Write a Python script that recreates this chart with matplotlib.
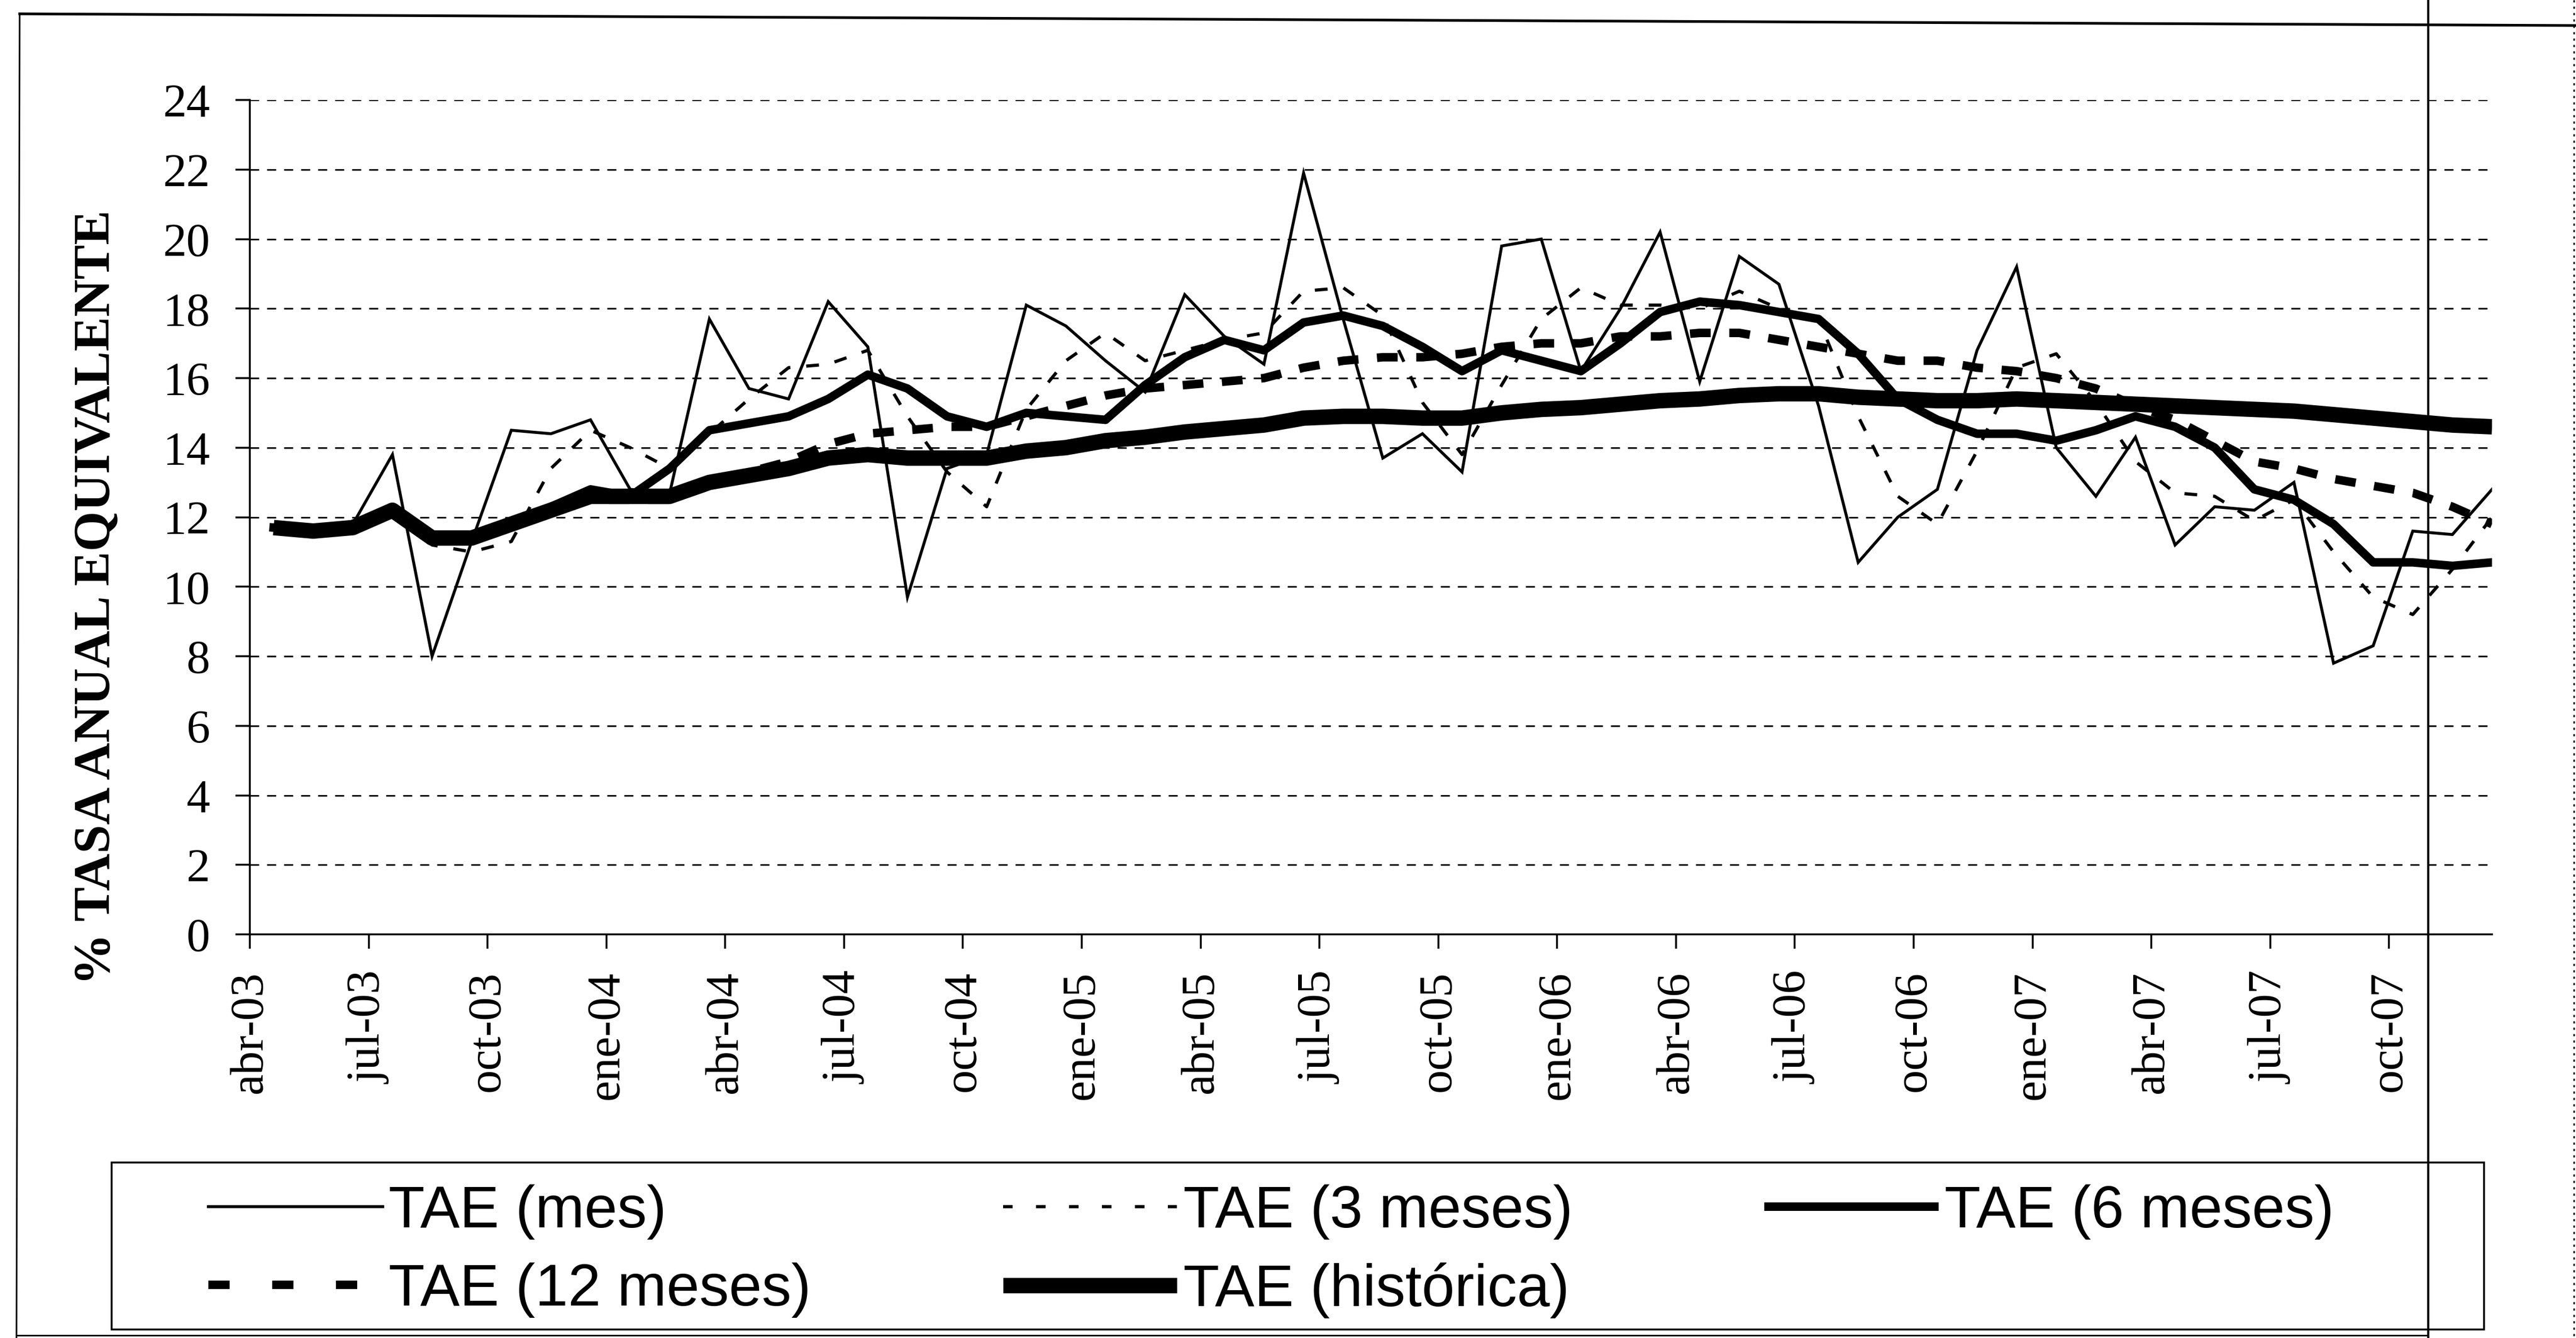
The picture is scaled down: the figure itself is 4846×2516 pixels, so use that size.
import matplotlib
matplotlib.use("Agg")
import numpy as np
import matplotlib.pyplot as plt
from matplotlib.lines import Line2D
from matplotlib.patches import Rectangle

# ---------------- data ----------------
tick_labels = ['abr-03', 'jul-03', 'oct-03', 'ene-04', 'abr-04', 'jul-04', 'oct-04',
               'ene-05', 'abr-05', 'jul-05', 'oct-05', 'ene-06', 'abr-06', 'jul-06',
               'oct-06', 'ene-07', 'abr-07', 'jul-07', 'oct-07']

tae_mes = [11.7, 11.6, 11.8, 13.8, 8.0, 11.3, 14.5, 14.4, 14.8, 12.8,
           12.7, 17.7, 15.7, 15.4, 18.2, 16.9, 9.7, 13.4, 13.8, 18.1,
           17.5, 16.5, 15.6, 18.4, 17.2, 16.4, 21.9, 17.7, 13.7, 14.4,
           13.3, 19.8, 20.0, 16.2, 18.0, 20.2, 15.9, 19.5, 18.7, 15.2,
           10.7, 12.0, 12.8, 16.8, 19.2, 14.0, 12.6, 14.3, 11.2, 12.3,
           12.2, 13.0, 7.8, 8.3, 11.6, 11.5, 12.8]

tae_3m = [11.7, 11.6, 11.7, 12.3, 11.2, 11.0, 11.3, 13.4, 14.5, 14.0,
          13.4, 14.4, 15.4, 16.3, 16.4, 16.8, 14.9, 13.3, 12.3, 15.1,
          16.5, 17.3, 16.5, 16.8, 17.1, 17.3, 18.5, 18.6, 17.8, 15.3,
          13.8, 15.8, 17.7, 18.6, 18.1, 18.1, 18.0, 18.5, 18.0, 17.7,
          14.9, 12.6, 11.8, 13.9, 16.3, 16.7, 15.3, 13.6, 12.7, 12.6,
          11.9, 12.5, 11.0, 9.7, 9.2, 10.5, 12.0]

tae_6m = [11.7, 11.6, 11.7, 12.2, 11.4, 11.4, 11.8, 12.3, 12.8, 12.6,
          13.4, 14.5, 14.7, 14.9, 15.4, 16.1, 15.7, 14.9, 14.6, 15.0,
          14.9, 14.8, 15.8, 16.6, 17.1, 16.8, 17.6, 17.8, 17.5, 16.9,
          16.2, 16.8, 16.5, 16.2, 17.0, 17.9, 18.2, 18.1, 17.9, 17.7,
          16.7, 15.4, 14.8, 14.4, 14.4, 14.2, 14.5, 14.9, 14.6, 14.0,
          12.8, 12.5, 11.8, 10.7, 10.7, 10.6, 10.7]

tae_12m = [11.7, 11.6, 11.7, 12.2, 11.4, 11.4, 11.8, 12.2, 12.5, 12.5,
           12.5, 12.9, 13.3, 13.6, 14.1, 14.4, 14.5, 14.6, 14.6, 14.9,
           15.2, 15.5, 15.7, 15.8, 15.9, 16.0, 16.3, 16.5, 16.6, 16.6,
           16.7, 16.9, 17.0, 17.0, 17.2, 17.2, 17.3, 17.3, 17.1, 16.9,
           16.7, 16.5, 16.5, 16.3, 16.2, 16.0, 15.7, 15.2, 14.8, 14.2,
           13.6, 13.4, 13.1, 12.9, 12.7, 12.3, 11.8]

tae_hist = [11.7, 11.6, 11.7, 12.2, 11.4, 11.4, 11.8, 12.2, 12.6, 12.6,
            12.6, 13.0, 13.2, 13.4, 13.7, 13.8, 13.7, 13.7, 13.7, 13.9,
            14.0, 14.2, 14.3, 14.45, 14.55, 14.65, 14.85, 14.9, 14.9, 14.85,
            14.85, 15.0, 15.1, 15.15, 15.25, 15.35, 15.4, 15.5, 15.55, 15.55,
            15.45, 15.4, 15.35, 15.35, 15.4, 15.35, 15.3, 15.25, 15.2, 15.15,
            15.1, 15.05, 14.95, 14.85, 14.75, 14.65, 14.6]

series_labels = ['TAE (mes)', 'TAE (3 meses)', 'TAE (6 meses)',
                 'TAE (12 meses)', 'TAE (histórica)']

# ---------------- layout ----------------
W, H = 4846, 2516
DPI = 100
PT = 72.0 / DPI  # points per pixel

plt.rcParams['lines.scale_dashes'] = False
plt.rcParams['font.family'] = ['Liberation Serif', 'DejaVu Serif']

fig = plt.figure(figsize=(W / DPI, H / DPI), dpi=DPI, facecolor='white')

def fx(px):
    return px / W

def fy(py):
    return 1 - py / H

ax_l, ax_r, ax_t, ax_b = 470, 4688, 188, 1757
ax = fig.add_axes([fx(ax_l), fy(ax_b), (ax_r - ax_l) / W, (ax_b - ax_t) / H])
ax.set_facecolor('white')

n = len(tae_mes)
x = np.arange(n) + 0.6   # data plotted at mid-month on a date axis

l_mes, = ax.plot(x, tae_mes, color='black', lw=5.5 * PT, solid_joinstyle='miter')
l_3m, = ax.plot(x, tae_3m, color='black', lw=6 * PT, dashes=(24 * PT, 30 * PT))
l_6m, = ax.plot(x, tae_6m, color='black', lw=16 * PT, solid_joinstyle='round')
l_12m, = ax.plot(x, tae_12m, color='black', lw=16 * PT, dashes=(39 * PT, 35 * PT),
                 dash_capstyle='butt')
l_hist, = ax.plot(x, tae_hist, color='black', lw=29 * PT, solid_joinstyle='round',
                  solid_capstyle='butt')

ax.set_xlim(0, n - 1 + 0.6)
ax.set_ylim(0, 24)
ax.set_yticks(np.arange(0, 25, 2))
ax.set_xticks(np.arange(0, 3 * len(tick_labels), 3))
ax.set_xticklabels(tick_labels, rotation=90, fontsize=64, family=['Liberation Serif'])
ax.set_yticklabels([str(v) for v in range(0, 25, 2)], fontsize=64,
                   family=['Liberation Serif'])

for sp in ['top', 'right']:
    ax.spines[sp].set_visible(False)
for sp in ['left', 'bottom']:
    ax.spines[sp].set_linewidth(3.5 * PT)
    ax.spines[sp].set_color('black')

ax.tick_params(axis='y', direction='out', length=27 * PT, width=3.5 * PT, pad=48 * PT)
ax.tick_params(axis='x', direction='out', length=27 * PT, width=3.5 * PT, pad=42 * PT)

ax.yaxis.grid(True, color='black', lw=3 * PT, dashes=(17 * PT, 15 * PT))
ax.set_axisbelow(True)

# y-axis title
fig.text(fx(183), fy(1123), '% TASA ANUAL EQUIVALENTE', rotation=90,
         ha='center', va='center', fontsize=70, fontweight='bold',
         family=['Liberation Serif'])

# ---------------- legend ----------------
h_mes = Line2D([], [], color='black', lw=5.5 * PT)
h_3m = Line2D([], [], color='black', lw=6 * PT, dashes=(18 * PT, 44 * PT))
h_6m = Line2D([], [], color='black', lw=16 * PT, solid_capstyle='butt')
h_12m = Line2D([], [], color='black', lw=16 * PT, dashes=(40 * PT, 80 * PT),
               dash_capstyle='butt')
h_hist = Line2D([], [], color='black', lw=29 * PT, solid_capstyle='butt')

handles = [h_mes, h_12m, h_3m, h_hist, h_6m]
labels = [series_labels[0], series_labels[3], series_labels[1],
          series_labels[4], series_labels[2]]
leg = fig.legend(handles, labels, loc='upper left',
                 bbox_to_anchor=(fx(392), fy(2227)), ncol=3, frameon=False,
                 prop={'family': ['Liberation Sans'], 'size': 80},
                 handlelength=2.95, handletextpad=0.1, columnspacing=3.25,
                 labelspacing=0.39, borderpad=0, borderaxespad=0)

# legend frame
fig.add_artist(Rectangle((fx(210), fy(2500)), (4673 - 210) / W, (2500 - 2186) / H,
                         transform=fig.transFigure, fill=False, edgecolor='black',
                         lw=3.5 * PT))

# page border lines (scan frame)
fig.add_artist(Line2D([fx(37), fx(4846)], [fy(26), fy(48)], transform=fig.transFigure,
                      color='black', lw=5 * PT))
fig.add_artist(Line2D([fx(37), fx(31)], [fy(26), fy(2516)], transform=fig.transFigure,
                      color='black', lw=3 * PT))
fig.add_artist(Line2D([fx(4568), fx(4568)], [fy(0), fy(2516)], transform=fig.transFigure,
                      color='black', lw=4 * PT))
fig.add_artist(Line2D([fx(31), fx(4568)], [fy(2511), fy(2511)], transform=fig.transFigure,
                      color='black', lw=3 * PT))
fig.add_artist(Line2D([fx(4842), fx(4842)], [fy(0), fy(2516)], transform=fig.transFigure,
                      color='black', lw=3 * PT, dashes=(4 * PT, 8 * PT)))

fig.savefig('out.png', dpi=DPI, facecolor='white')
